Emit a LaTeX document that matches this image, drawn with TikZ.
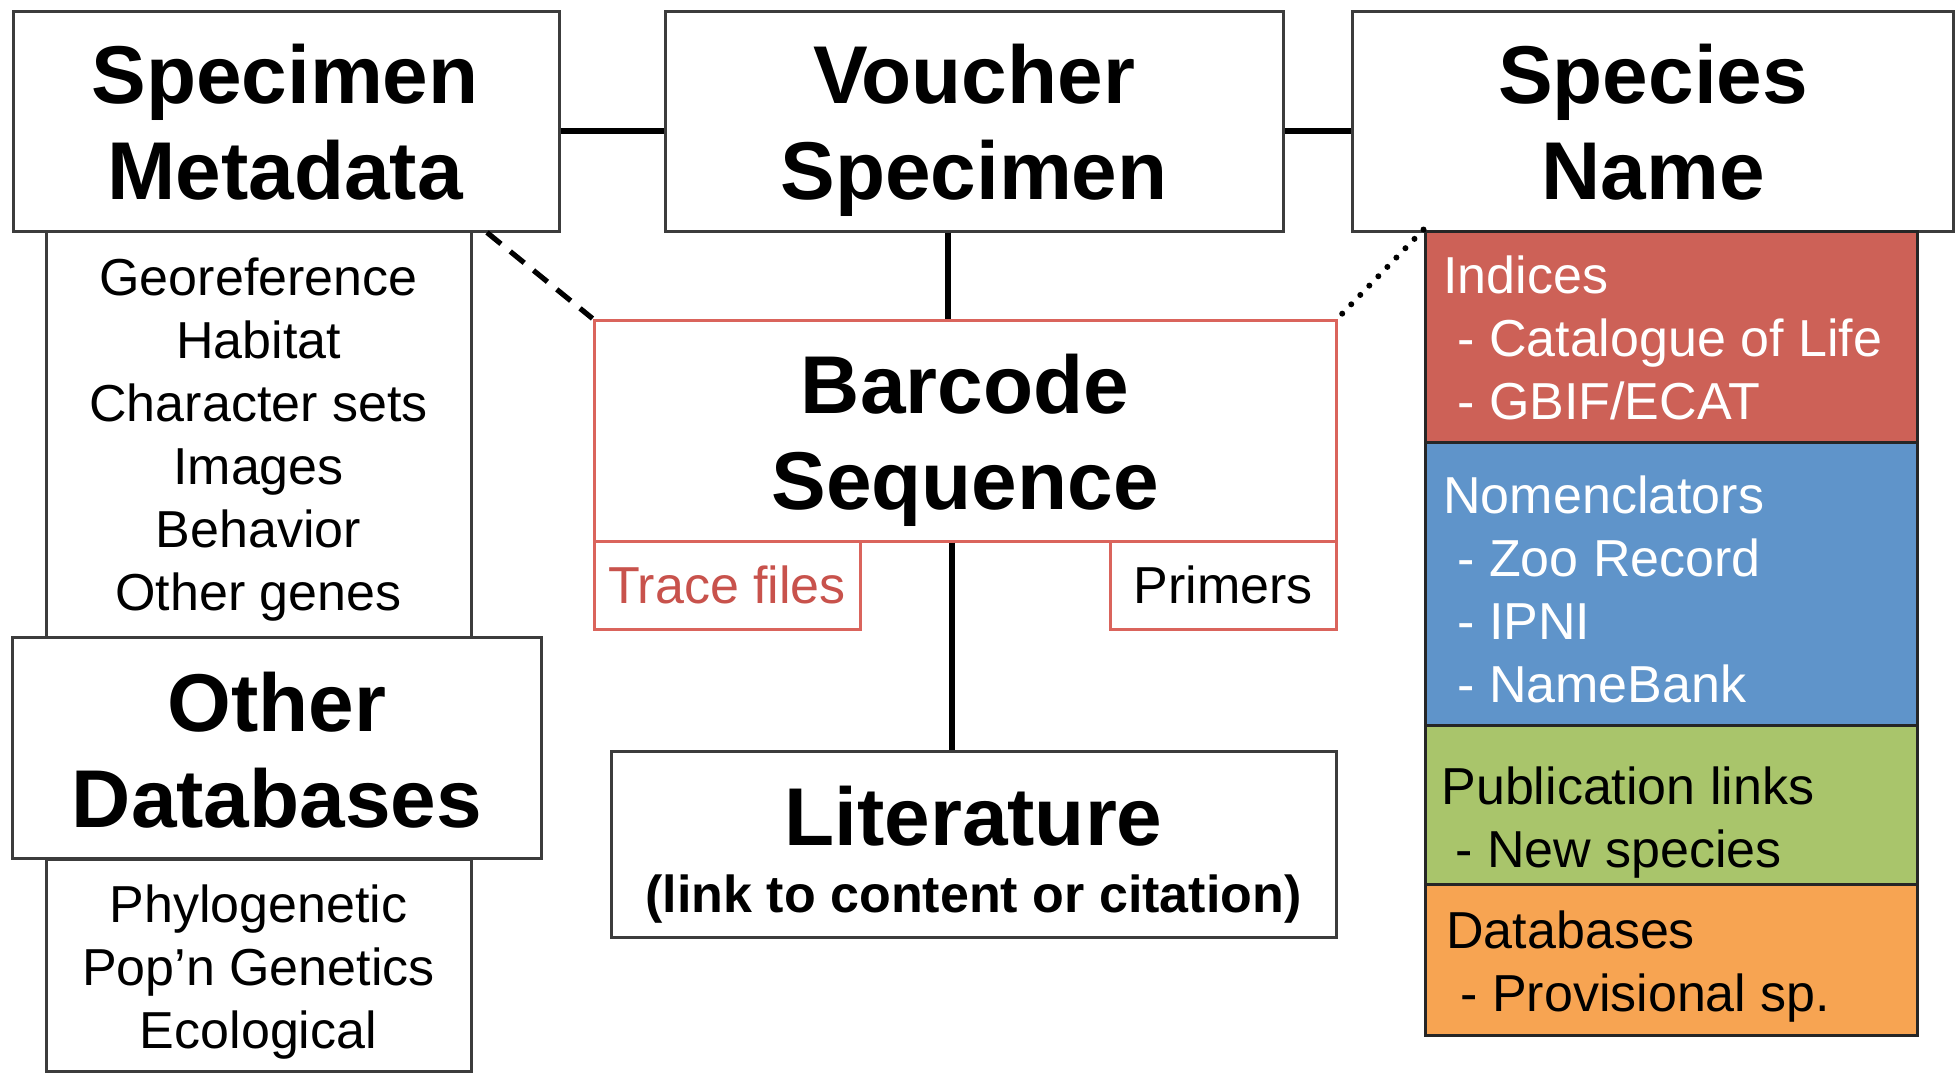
\documentclass[tikz,border=0pt]{standalone}
\usepackage{fontspec}
\setmainfont{Liberation Sans}
\definecolor{boxgray}{HTML}{3C3C3C}
\definecolor{idxred}{HTML}{CD6157}
\definecolor{nomblue}{HTML}{5F94CA}
\definecolor{pubgreen}{HTML}{A9C56B}
\definecolor{dbsorange}{HTML}{F7A452}
\definecolor{bcred}{HTML}{DA645C}
\definecolor{trred}{HTML}{C8524C}
\begin{document}
\begin{tikzpicture}[x=0.5pt,y=-0.5pt,
 box/.style={draw=boxgray,line width=1.5pt,fill=white,inner sep=0pt},
 redbox/.style={draw=bcred,line width=1.5pt,fill=white,inner sep=0pt},
 colbox/.style={draw=black!85,line width=1.5pt,inner sep=0pt},
 head/.style={font=\bfseries\fontsize{41}{48}\selectfont,align=center,text depth=0pt,inner sep=0pt},
 body/.style={font=\fontsize{26}{31.5}\selectfont,inner sep=0pt},
 conn/.style={line width=3pt}]
\useasboundingbox (0,0) rectangle (1959,1073);

% left column boxes
\node[box,minimum width=212.5pt,minimum height=203pt] (ml) at (258.5,434) {};
\node[box,minimum width=212.5pt,minimum height=106pt] (ll) at (258.5,965) {};
\node[box,minimum width=273pt,minimum height=110pt] (sm) at (286,121) {};
\node[box,minimum width=264.5pt,minimum height=110.5pt] (od) at (277,748) {};
% top boxes
\node[box,minimum width=309pt,minimum height=110pt] (vs) at (974,121) {};
\node[box,minimum width=300.5pt,minimum height=110pt] (sn) at (1653,121) {};
% barcode
\node[redbox,minimum width=371pt,minimum height=110.5pt] (bc) at (965,430.5) {};
\node[redbox,minimum width=133pt,minimum height=44pt] (tf) at (727,585) {};
\node[redbox,minimum width=113pt,minimum height=44pt] (pr) at (1223,585) {};
% literature
\node[box,minimum width=362.5pt,minimum height=93pt] (lit) at (973.5,844) {};
% right column
\node[colbox,fill=idxred,minimum width=246pt,minimum height=105.75pt] (idx) at (1671,336.75) {};
\node[colbox,fill=nomblue,minimum width=246pt,minimum height=141.25pt] (nom) at (1671,583.75) {};
\node[colbox,fill=pubgreen,minimum width=246pt,minimum height=79.5pt] (pub) at (1671,804.5) {};
\node[colbox,fill=dbsorange,minimum width=246pt,minimum height=75.5pt] (dbs) at (1671,959.5) {};

% headings
\node[head] (smt) at (285,122) {Specimen\\Metadata};
\node[head] (vst) at (974,122) {Voucher\\Specimen};
\node[head] (snt) at (1653,122) {Species\\Name};
\node[head] (odt) at (277,750) {Other\\Databases};
\node[head] (bct) at (965,432) {Barcode\\Sequence};
\node[head,anchor=base] (litt) at (973.5,845) {Literature};
\node[font=\bfseries\fontsize{26}{31.5}\selectfont,anchor=base,inner sep=0pt] (litc) at (973.5,912.7) {(link to content or citation)};

% lists
\node[body,align=center,anchor=north] (mlt) at (258.5,251) {\strut Georeference\\Habitat\\Character sets\\Images\\Behavior\\Other genes};
\node[body,align=center,anchor=north] (llt) at (258.5,878) {\strut Phylogenetic\\Pop’n Genetics\\Ecological};
\node[body,text depth=0pt,text=trred] (tft) at (tf.center) {Trace files};
\node[body,text depth=0pt] (prt) at (pr.center) {Primers};

% right column texts
\node[body,align=left,anchor=north west,text=white] (idxt) at (1443,249) {\strut Indices\\\hspace*{7pt}- Catalogue of Life\\\hspace*{7pt}- GBIF/ECAT};
\node[body,align=left,anchor=north west,text=white] (nomt) at (1443,469) {\strut Nomenclators\\\hspace*{7pt}- Zoo Record\\\hspace*{7pt}- IPNI\\\hspace*{7pt}- NameBank};
\node[body,align=left,anchor=north west] (pubt) at (1441,760) {\strut Publication links\\\hspace*{7pt}- New species};
\node[body,align=left,anchor=north west] (dbst) at (1446,904) {\strut Databases\\\hspace*{7pt}- Provisional sp.};

% connectors
\draw[conn] ([yshift=-5pt]sm.east) -- ([yshift=-5pt]vs.west);
\draw[conn] ([yshift=-5pt]vs.east) -- ([yshift=-5pt]sn.west);
\coordinate (v1) at ([xshift=-13.25pt]vs.south);
\draw[conn] (v1) -- (v1 |- bc.north);
\coordinate (v2) at ([xshift=-6.5pt]bc.south);
\draw[conn] (v2) -- (v2 |- lit.north);
\coordinate (d1) at ([xshift=100.5pt]sm.south);
\draw[line width=2.6pt,dash pattern=on 9pt off 6pt] (d1) -- (bc.north west);
\draw[line width=3pt,line cap=round,dash pattern=on 0pt off 6.5pt] (idx.north west) -- (bc.north east);
\end{tikzpicture}
\end{document}
